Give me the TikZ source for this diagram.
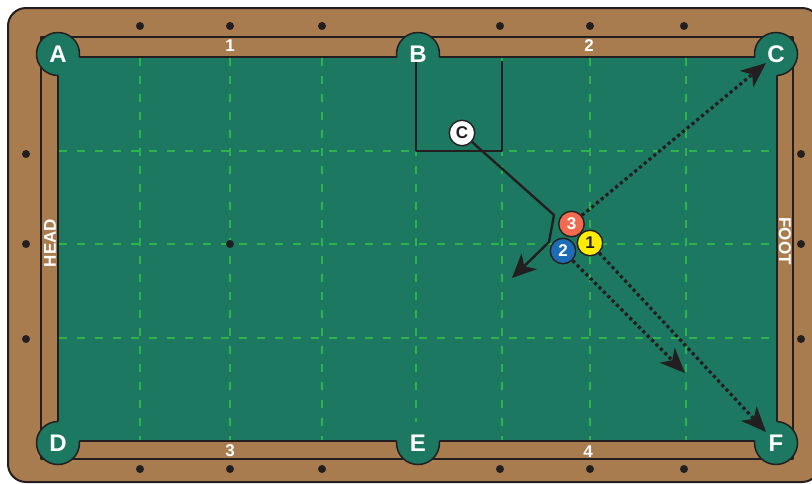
\documentclass[tikz,border=0pt]{standalone}
\usepackage{fontspec}
\setmainfont{Liberation Sans}
\usetikzlibrary{arrows.meta}
\definecolor{wood}{HTML}{A97C50}
\definecolor{cloth}{HTML}{1D7862}
\definecolor{gridgreen}{HTML}{2DB34C}
\definecolor{ink}{HTML}{231F20}
\definecolor{ballthree}{HTML}{F26B50}
\definecolor{balltwo}{HTML}{1C6DB5}
\definecolor{ballone}{HTML}{FFEC00}
\tikzset{
  pocket/.style={circle,fill=cloth,minimum size=43pt,inner sep=0pt,text=white,
    font=\bfseries\fontsize{24}{24}\selectfont},
  ball/.style={circle,draw=ink,line width=1.4pt,minimum size=25.5pt,inner sep=0pt,
    font=\bfseries\fontsize{17}{17}\selectfont},
  raillbl/.style={text=white,inner sep=0pt,font=\bfseries\fontsize{17}{17}\selectfont},
  gridline/.style={gridgreen,line width=1.1pt,dash pattern=on 8pt off 10pt},
  cueline/.style={ink,line width=2.4pt,-{Stealth[length=24pt,width=22pt,inset=7pt]}},
  potline/.style={ink,line width=3.2pt,dash pattern=on 3.2pt off 3pt,
    -{Stealth[length=25pt,width=21pt,inset=7pt]}},
}
\begin{document}
\begin{tikzpicture}[x=1pt,y=-1pt,line join=round]
\clip (0,0) rectangle (812,483);
% rails and cloth
\draw[fill=wood,draw=ink,line width=2pt,rounded corners=18pt] (8,8) rectangle (820,482);
\draw[ink,line width=1.5pt] (41,37) rectangle (793,459);
\draw[fill=cloth,draw=ink,line width=1.5pt] (58,57) rectangle (777,441);
% sights
\foreach \x in {140,230,322,500,590,684} {
  \fill[ink] (\x,26) circle[radius=4pt];
  \fill[ink] (\x,469) circle[radius=4pt];
}
\foreach \y in {154,244,339} {
  \fill[ink] (26,\y) circle[radius=4pt];
  \fill[ink] (801,\y) circle[radius=4pt];
}
% grid
\foreach \x in {140,230,322,416,502,590,686}
  \draw[gridline] (\x,58) -- (\x,440);
\foreach \y in {151,244,338}
  \draw[gridline] (59,\y) -- (776,\y);
\fill[ink] (230,244) circle[radius=4pt];
% pockets
\node[pocket] (pA) at (58,54) {A};
\node[pocket] (pB) at (418,54) {B};
\node[pocket] (pC) at (776,54) {C};
\node[pocket] (pD) at (58,443) {D};
\node[pocket] (pE) at (418,443) {E};
\node[pocket] (pF) at (776,443) {F};
\begin{scope}
  \clip (0,0) -- (812,0) -- (812,483) -- (0,483) -- cycle
        (58,57) -- (58,441) -- (777,441) -- (777,57) -- cycle;
  \foreach \p in {pA,pB,pC,pD,pE,pF}
    \draw[ink,line width=1.5pt] (\p.center) circle[radius=21.5pt];
\end{scope}
% box
\draw[ink,line width=1.4pt] (416,62) -- (416,151) -- (502,151) -- (502,61);
% rail labels
\node[raillbl] (n1) at (230,46) {1};
\node[raillbl] (n2) at (589,46) {2};
\node[raillbl] (n3) at (230,451) {3};
\node[raillbl] (n4) at (588,452) {4};
\node[raillbl,rotate=90] (head) at (50,243) {HEAD};
\node[raillbl,rotate=-90] (foot) at (785,241) {FOOT};
% balls
\node[ball,fill=white,text=ink] (cb) at (462,133) {C};
\node[ball,fill=ballthree,text=white] (b3) at (571.5,224) {3};
\node[ball,fill=balltwo,text=white] (b2) at (563,251) {2};
\node[ball,fill=ballone,text=ink] (b1) at (590,243) {1};
% paths
\coordinate (kiss) at (554,215);
\coordinate (turn) at (549,242);
\coordinate (cueend) at (512,278);
\coordinate (tipC) at (766,63);
\coordinate (tipmid) at (685,373);
\coordinate (tipF) at (766,432);
\draw[cueline] (cb) -- (kiss) -- (turn) -- (cueend);
\draw[potline] (b3) -- (tipC);
\draw[potline] (b2) -- (tipmid);
\draw[potline] (b1) -- (tipF);
\end{tikzpicture}
\end{document}
